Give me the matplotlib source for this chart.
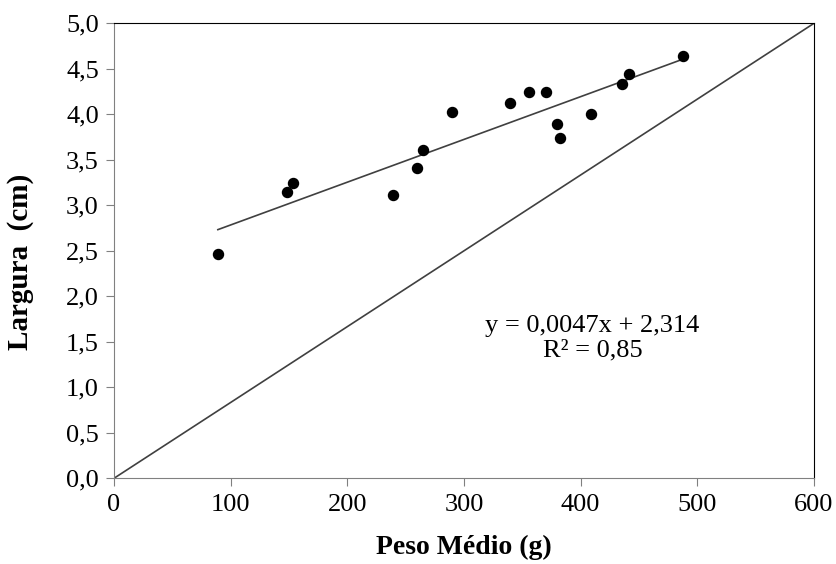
import matplotlib.pyplot as plt
import numpy as np

# Peso médio (g) e largura (cm)
peso = [89, 148, 153, 239, 260, 265, 290, 339, 356, 370, 380, 382, 409, 435, 441, 488]
largura = [2.46, 3.15, 3.24, 3.11, 3.41, 3.61, 4.02, 4.12, 4.24, 4.24, 3.89, 3.74, 4.00, 4.33, 4.44, 4.64]

# Reta ajustada e linha de referência
coef_a = 0.0047
coef_b = 2.314
ref_x = [0, 600]
ref_y = [0, 5.0]

x_ticks = [0, 100, 200, 300, 400, 500, 600]
y_ticks = [0.0, 0.5, 1.0, 1.5, 2.0, 2.5, 3.0, 3.5, 4.0, 4.5, 5.0]

plt.rcParams['font.family'] = ['Liberation Serif', 'DejaVu Serif']

fig = plt.figure(figsize=(8.36, 5.64), dpi=100)
ax = fig.add_axes([0.1364, 0.152, 0.8373, 0.8067])

ax.plot(ref_x, ref_y, color="#404040", linewidth=1.2)
fit_x = np.array([min(peso), max(peso)])
ax.plot(fit_x, coef_a * fit_x + coef_b, color="#404040", linewidth=1.2)
ax.scatter(peso, largura, s=52, color="black", zorder=3)

ax.set_xlim(0, 600)
ax.set_ylim(0, 5.0)
ax.set_xticks(x_ticks)
ax.set_yticks(y_ticks)
ax.set_xticklabels([str(v) for v in x_ticks])
ax.set_yticklabels([f"{v:.1f}".replace(".", ",") for v in y_ticks])

for side in ["left", "bottom"]:
    ax.spines[side].set_color("#808080")
for side in ["top", "right"]:
    ax.spines[side].set_color("black")
ax.tick_params(direction="out", length=6, color="#808080", labelsize=19, pad=5)

ax.set_xlabel("Peso Médio (g)", fontsize=20, fontweight="bold", labelpad=14)
ax.set_ylabel("Largura  (cm)", fontsize=21, fontweight="bold")
ax.yaxis.set_label_coords(-0.114, 0.475)

ax.text(410, 1.54, "y = 0,0047x + 2,314\nR² = 0,85", ha="center", va="center",
        fontsize=19, linespacing=1.1)

plt.savefig("out.png", dpi=100)
